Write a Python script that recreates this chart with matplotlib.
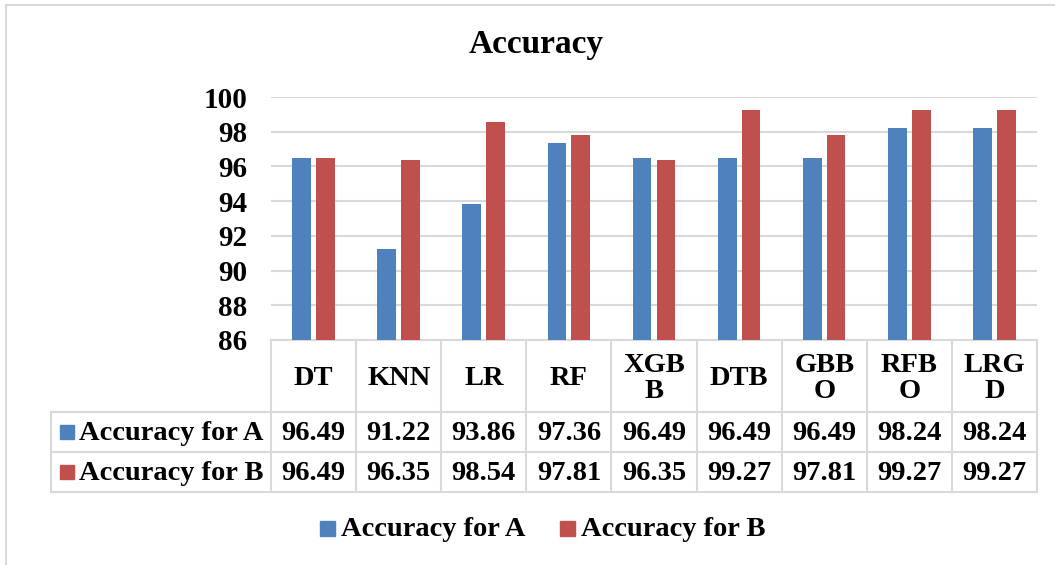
import matplotlib.pyplot as plt
import matplotlib.transforms as mtransforms
from matplotlib.patches import Rectangle
import numpy as np

# data
models = ['DT', 'KNN', 'LR', 'RF', 'XGBB', 'DTB', 'GBBO', 'RFBO', 'LRGD']
header_labels = ['DT', 'KNN', 'LR', 'RF', 'XGB\nB', 'DTB', 'GBB\nO', 'RFB\nO', 'LRG\nD']
acc_a = [96.49, 91.22, 93.86, 97.36, 96.49, 96.49, 96.49, 98.24, 98.24]
acc_b = [96.49, 96.35, 98.54, 97.81, 96.35, 99.27, 97.81, 99.27, 99.27]
series_names = ['Accuracy for A', 'Accuracy for B']
y_ticks = [86, 88, 90, 92, 94, 96, 98, 100]

blue = '#4F81BD'
red = '#C0504D'
grid_c = '#D9D9D9'
W, H = 1055, 565
fs = 20.5

plt.rcParams['font.family'] = ['Liberation Serif', 'DejaVu Serif']
plt.rcParams['font.weight'] = 'bold'

fig = plt.figure(figsize=(W / 100, H / 100), dpi=100)

def fy(py):
    # pixel row -> figure fraction
    return 1 - py / H

def fx(px):
    return px / W

ax = fig.add_axes([fx(271), fy(340), fx(1037) - fx(271), fy(97) - fy(340)])
x = np.arange(len(models))
bw = 0.22
gap = 0.06
ax.bar(x - (bw + gap) / 2, acc_a, bw, color=blue, zorder=3)
ax.bar(x + (bw + gap) / 2, acc_b, bw, color=red, zorder=3)
ax.set_xlim(-0.5, len(models) - 0.5)
ax.set_ylim(86, 100)
ax.set_yticks(y_ticks)
ax.set_yticklabels([str(t) for t in y_ticks], fontsize=fs + 0.5, fontweight='bold')
ax.tick_params(axis='y', length=0, pad=17)
ax.set_xticks([])
ax.grid(axis='y', color=grid_c, linewidth=1.5, zorder=0)
for s in ['top', 'right', 'left']:
    ax.spines[s].set_visible(False)
ax.spines['bottom'].set_color(grid_c)
ax.spines['bottom'].set_linewidth(1.5)

# data table below the axis, columns follow the axis x scale
tr = mtransforms.blended_transform_factory(ax.transData, fig.transFigure)
y_top, y_hdr, y_ra, y_rb = fy(340), fy(412), fy(452), fy(492)
lw = 1.5
for b in np.arange(len(models) + 1) - 0.5:
    ax.add_line(plt.Line2D([b, b], [y_top, y_rb], transform=tr, color=grid_c,
                           lw=lw, clip_on=False))
for yy in [y_hdr, y_ra, y_rb]:
    fig.add_artist(plt.Line2D([fx(51), fx(1037)], [yy, yy], color=grid_c, lw=lw))
fig.add_artist(plt.Line2D([fx(51), fx(51)], [y_hdr, y_rb], color=grid_c, lw=lw))

for i, lab in enumerate(header_labels):
    ax.text(i, (y_top + y_hdr) / 2 - 0.004, lab, transform=tr, ha='center', va='center',
            fontsize=fs, fontweight='bold', linespacing=1.05, clip_on=False)
    ax.text(i, (y_hdr + y_ra) / 2 - 0.003, f'{acc_a[i]:.2f}', transform=tr,
            ha='center', va='center', fontsize=fs, fontweight='bold')
    ax.text(i, (y_ra + y_rb) / 2 - 0.003, f'{acc_b[i]:.2f}', transform=tr,
            ha='center', va='center', fontsize=fs, fontweight='bold')

for name, c, y0, y1 in [(series_names[0], blue, y_hdr, y_ra),
                        (series_names[1], red, y_ra, y_rb)]:
    yc = (y0 + y1) / 2
    fig.add_artist(Rectangle((fx(60), yc - 7 / H), 14 / W, 14 / H, color=c))
    fig.text(fx(79), yc - 0.003, name, ha='left', va='center', fontsize=fs,
             fontweight='bold')

# legend
for name, c, px in [(series_names[0], blue, 320), (series_names[1], red, 560)]:
    fig.add_artist(Rectangle((fx(px), fy(536)), 15 / W, 15 / H, color=c))
    fig.text(fx(px + 21), fy(528) - 0.003, name, ha='left', va='center',
             fontsize=fs, fontweight='bold')

fig.text(fx(536), fy(45), 'Accuracy', ha='center', va='center', fontsize=24,
         fontweight='bold')

# chart border (left and top visible)
fig.add_artist(plt.Line2D([fx(6), fx(6)], [0, fy(5)], color=grid_c, lw=1.5))
fig.add_artist(plt.Line2D([fx(6), 1], [fy(5), fy(5)], color=grid_c, lw=1.5))

fig.savefig('out.png', dpi=100)
